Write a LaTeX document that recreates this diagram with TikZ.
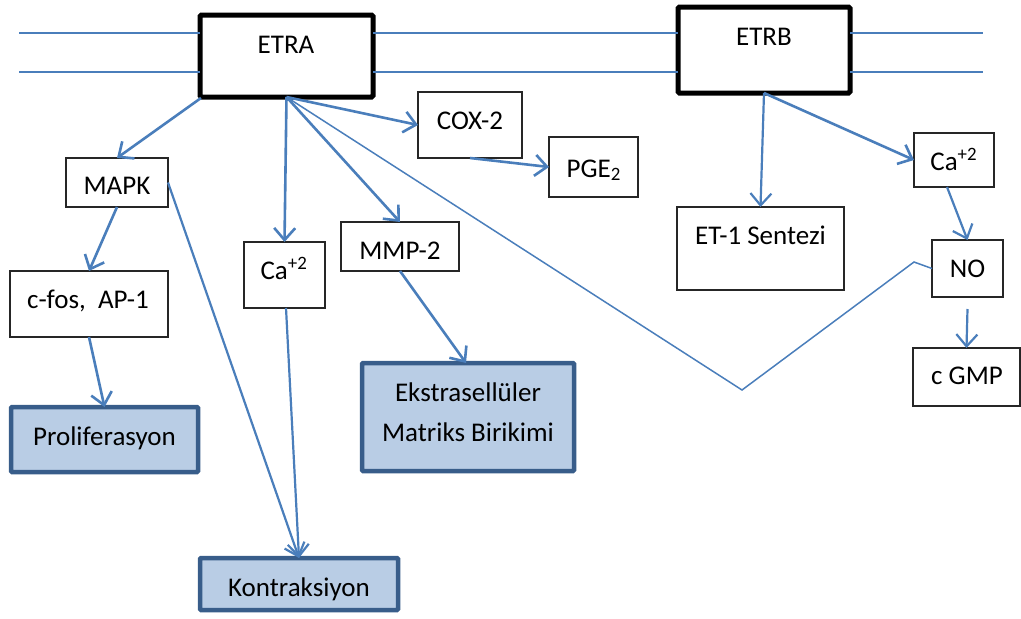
\documentclass[tikz,border=0pt]{standalone}
\usepackage{fontspec}
\setmainfont{Carlito}
\usetikzlibrary{arrows.meta,calc}
\definecolor{linkblue}{HTML}{4A7EBB}
\definecolor{resfill}{HTML}{B9CDE5}
\definecolor{resedge}{HTML}{385D8A}

\begin{document}
\begin{tikzpicture}[x=1pt,y=-1pt,
  every node/.style={inner sep=0pt, outer sep=0pt},
  txt/.style={font=\fontsize{27}{40}\selectfont, anchor=base, align=center},
  plainbox/.style={draw=black!85, line width=1.3pt, fill=white},
  receptor/.style={draw=black, line width=5pt, rounded corners=1.5pt, fill=white},
  outcome/.style={draw=resedge, fill=resfill, line width=4.5pt, rounded corners=1pt},
  membrane/.style={draw=linkblue, line width=1.8pt},
  link/.style={draw=linkblue, line width=2.6pt, -{Straight Barb[length=12pt,width=21pt]}},
  midlink/.style={draw=linkblue, line width=2.2pt, -{Straight Barb[length=12pt,width=21pt]}},
  thinlink/.style={draw=linkblue, line width=1.5pt},
]
\useasboundingbox (0,0) rectangle (1021,619);

% membrane end points
\coordinate (memL1) at (19,33);
\coordinate (memL2) at (19,72);
\coordinate (memR1) at (983,33);
\coordinate (memR2) at (983,72);

% receptors
\node[receptor, minimum width=173pt, minimum height=82pt] (etra) at (286.5,56) {};
\node[receptor, minimum width=172pt, minimum height=86pt] (etrb) at (764,50) {};

% membrane lines
\draw[membrane] (memL1) -- (memL1 -| etra.west);
\draw[membrane] (memL2) -- (memL2 -| etra.west);
\draw[membrane] (memL1 -| etra.east) -- (memL1 -| etrb.west);
\draw[membrane] (memL2 -| etra.east) -- (memL2 -| etrb.west);
\draw[membrane] (memR1 -| etrb.east) -- (memR1);
\draw[membrane] (memR2 -| etrb.east) -- (memR2);
\node[txt] (etraT) at (286,53) {ETRA};
\node[txt] (etrbT) at (764,45) {ETRB};

% intermediate boxes
\node[plainbox, minimum width=102pt, minimum height=49pt] (mapk) at (117,182.5) {};
\node[txt] (mapkT) at (117,194) {MAPK};
\node[plainbox, minimum width=158pt, minimum height=66pt] (cfos) at (89,304) {};
\node[txt] (cfosT) at (88,308) {c-fos,\ \ AP-1};
\node[plainbox, minimum width=81pt, minimum height=66pt] (caA) at (284.5,275) {};
\node[txt] (caAT) at (284,279) {Ca\textsuperscript{+2}};
\node[plainbox, minimum width=118pt, minimum height=49pt] (mmp) at (400,246.5) {};
\node[txt] (mmpT) at (400,259) {MMP-2};
\node[plainbox, minimum width=104pt, minimum height=66pt] (cox) at (470,125) {};
\node[txt] (coxT) at (470,129) {COX-2};
\node[plainbox, minimum width=89pt, minimum height=60pt] (pge) at (593.5,167) {};
\node[txt] (pgeT) at (593.8,177) {PGE\textsubscript{2}};
\node[plainbox, minimum width=80pt, minimum height=54pt] (caB) at (954,160) {};
\node[txt] (caBT) at (953.8,170) {Ca\textsuperscript{+2}};
\node[plainbox, minimum width=167pt, minimum height=83pt] (et1) at (760.5,248.5) {};
\node[txt] (et1T) at (760.5,244) {ET-1 Sentezi};
\node[plainbox, minimum width=71pt, minimum height=57pt] (no) at (967.5,268.5) {};
\node[txt] (noT) at (967.5,277) {NO};
\node[plainbox, minimum width=107pt, minimum height=58pt] (cgmp) at (966.5,377) {};
\node[txt] (cgmpT) at (967,384) {c GMP};

% outcomes
\node[outcome, minimum width=187pt, minimum height=65pt] (prolif) at (104.5,439.5) {};
\node[txt] (prolifT) at (104.5,445) {Proliferasyon};
\node[outcome, minimum width=212pt, minimum height=108pt] (ecm) at (468,417) {};
\node[txt, anchor=center] (ecmT) at (468,412) {Ekstrasellüler\\Matriks Birikimi};
\node[outcome, minimum width=198pt, minimum height=52pt] (kontr) at (299,584) {};
\node[txt] (kontrT) at (299,596) {Kontraksiyon};

% bends of the ETRA -- NO connector
\coordinate (vlow) at (742,390);
\coordinate (vhigh) at (914,262);

% ETRA signalling
\draw[link] ($(etra.south west)+(1,1)$) -- (mapk.north);
\draw[link] (mapk.south) -- (cfos.north);
\draw[link] (cfos.south) -- (prolif.north);
\draw[link] (etra.south) -- (caA.north);
\draw[link] (etra.south) -- (mmp.north);
\draw[link] (etra.south) -- (cox.west);
\draw[link] (cox.south) -- (pge.west);
\draw[link] (mmp.south) -- ($(ecm.north)+(-2,0)$);
\draw[midlink] (mapk.east) -- (kontr.north);
\draw[midlink] ($(caA.south)+(1.5,0)$) -- (kontr.north);
\draw[thinlink] (etra.south) -- (vlow) -- (vhigh) -- (no.west);

% ETRB signalling
\draw[midlink] (etrb.south) -- (et1.north);
\draw[link] (etrb.south) -- (caB.west);
\draw[midlink] ($(caB.south)+(-7,0)$) -- (no.north);
\draw[midlink] ($(no.south)+(0,12)$) -- (cgmp.north);
\end{tikzpicture}
\end{document}
